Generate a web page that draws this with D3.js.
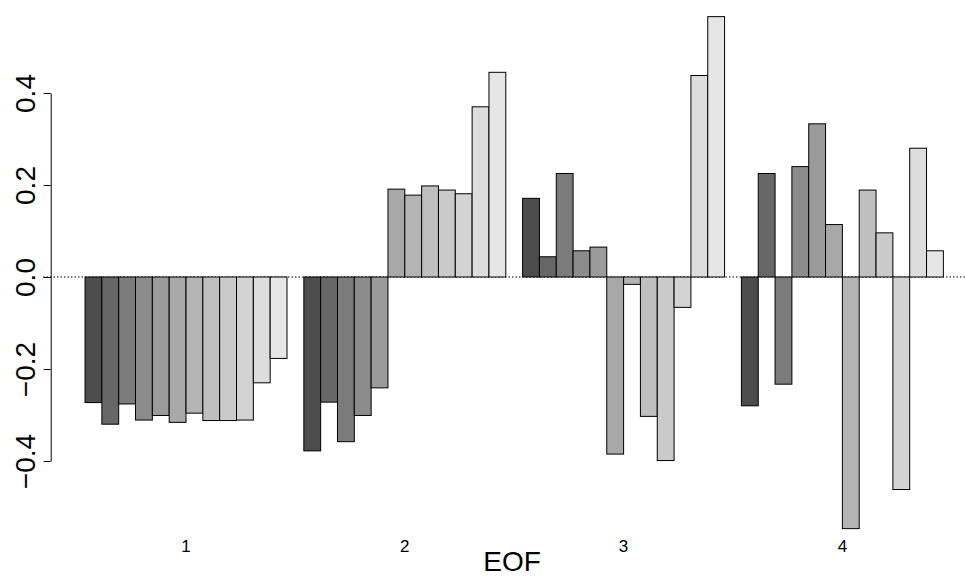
<!DOCTYPE html>
<html>
<head>
<meta charset="utf-8">
<script src="https://cdn.jsdelivr.net/npm/d3@7"></script>
<style>
  html, body { margin: 0; padding: 0; background: #ffffff; }
  svg { display: block; font-family: "Liberation Sans", Arial, Helvetica, sans-serif; }
</style>
</head>
<body>
<svg id="chart" width="965" height="578"></svg>
<script>
// Groups (EOF number) and the 12 loadings of each EOF
const groups = ["1", "2", "3", "4"];
const eof1 = [-0.273, -0.320, -0.276, -0.311, -0.301, -0.316, -0.296, -0.312, -0.312, -0.311, -0.230, -0.177];
const eof2 = [-0.378, -0.272, -0.358, -0.301, -0.241, 0.191, 0.178, 0.198, 0.189, 0.181, 0.370, 0.445];
const eof3 = [0.171, 0.044, 0.225, 0.057, 0.065, -0.385, -0.016, -0.303, -0.399, -0.066, 0.438, 0.566];
const eof4 = [-0.280, 0.225, -0.233, 0.240, 0.333, 0.114, -0.547, 0.189, 0.096, -0.462, 0.280, 0.057];
const yTicks = [-0.4, -0.2, 0.0, 0.2, 0.4];
const xTitle = "EOF";
const fills = ["#4D4D4D", "#676767", "#7B7B7B", "#8C8C8C", "#9B9B9B", "#A8A8A8",
               "#B4B4B4", "#BFBFBF", "#CACACA", "#D3D3D3", "#DDDDDD", "#E6E6E6"];

const series = [eof1, eof2, eof3, eof4];
const nBars = eof1.length;

const svg = d3.select("#chart");

// x in "bar units" like R barplot(beside=TRUE): space 1 before each group
const x = d3.scaleLinear().domain([-1.04, 54.04]).range([50.7, 977.7]);
const y = d3.scaleLinear().domain([-0.4, 0.4]).range([461, 93]);

const bars = [];
series.forEach((vals, g) => {
  vals.forEach((v, i) => {
    const u = 1 + g * (nBars + 1) + i;
    bars.push({ g, i, v, u });
  });
});

// zero reference line (dotted)
svg.append("line")
  .attr("x1", 43).attr("x2", 965)
  .attr("y1", y(0)).attr("y2", y(0))
  .attr("stroke", "#000").attr("stroke-width", 1)
  .attr("stroke-dasharray", "1.5,2");

svg.append("g").selectAll("rect").data(bars).join("rect")
  .attr("x", d => x(d.u))
  .attr("width", d => x(d.u + 1) - x(d.u))
  .attr("y", d => Math.min(y(d.v), y(0)))
  .attr("height", d => Math.abs(y(d.v) - y(0)))
  .attr("fill", d => fills[d.i])
  .attr("stroke", "#000")
  .attr("stroke-width", 1);

// y axis
const yAxis = d3.axisLeft(y).tickValues(yTicks).tickSize(7).tickSizeOuter(0)
  .tickFormat(d3.format(".1f"));
const ga = svg.append("g").attr("transform", `translate(${x(-1.04)},0)`).call(yAxis);
ga.select(".domain").attr("stroke", "#000");
ga.selectAll(".tick line").attr("stroke", "#000");
ga.selectAll(".tick text")
  .attr("font-size", 28)
  .attr("fill", "#000")
  .attr("font-family", "'Liberation Sans', Arial, Helvetica, sans-serif")
  .attr("text-anchor", "middle")
  .attr("x", 0)
  .attr("dy", null)
  .attr("y", -(x(-1.04) - 35))
  .attr("transform", "rotate(-90)")
  .text(d => d3.format(".1f")(d).replace("-", "\u2212"));

// group labels
svg.append("g").selectAll("text").data(groups).join("text")
  .attr("x", (d, g) => x(1 + g * (nBars + 1) + nBars / 2))
  .attr("y", 552)
  .attr("text-anchor", "middle")
  .attr("font-size", 17)
  .attr("fill", "#000")
  .text(d => d);

// x title
svg.append("text")
  .attr("x", 512)
  .attr("y", 571)
  .attr("text-anchor", "middle")
  .attr("font-size", 28)
  .attr("fill", "#000")
  .text(xTitle);
</script>
</body>
</html>
